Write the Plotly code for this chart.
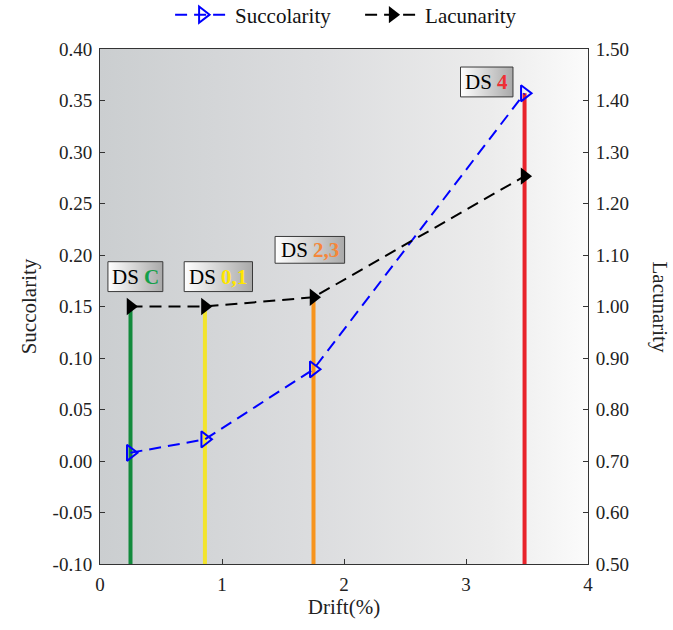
import plotly.graph_objects as go

# Damage-state data
states = ["C", "0,1", "2,3", "4"]
drift = [0.25, 0.86, 1.75, 3.48]
succolarity = [0.008, 0.021, 0.089, 0.357]
lacunarity = [1.000, 1.000, 1.018, 1.253]
state_colors = ["#128a3c", "#f2e42c", "#f7941d", "#e8232b"]
label_colors = ["#14a04a", "#ffe600", "#f5873a", "#ee3035"]

# Axis settings and tick labels
y1_range = [-0.10, 0.40]
y2_range = [0.50, 1.50]
x_range = [0, 4]
y1_ticks = [-0.10, -0.05, 0.00, 0.05, 0.10, 0.15, 0.20, 0.25, 0.30, 0.35, 0.40]
y1_labels = ["-0.10", "-0.05", "0.00", "0.05", "0.10", "0.15", "0.20", "0.25", "0.30", "0.35", "0.40"]
y2_ticks = [0.5, 0.6, 0.7, 0.8, 0.9, 1.0, 1.1, 1.2, 1.3, 1.4, 1.5]
y2_labels = ["0.50", "0.60", "0.70", "0.80", "0.90", "1.00", "1.10", "1.20", "1.30", "1.40", "1.50"]

FONT = "Liberation Serif"

# Label box placement (centre x, centre y on left axis, width, height)
box_pos = [(0.29, 0.179, 0.45, 0.029), (0.97, 0.179, 0.56, 0.029),
           (1.72, 0.205, 0.57, 0.026), (3.17, 0.368, 0.43, 0.029)]


def to_left(v):
    # map a lacunarity value onto the succolarity axis
    return y1_range[0] + (v - y2_range[0]) * (y1_range[1] - y1_range[0]) / (y2_range[1] - y2_range[0])


fig = go.Figure()

# shaded background
fig.add_trace(go.Scatter(
    x=[x_range[0], x_range[1], x_range[1], x_range[0], x_range[0]],
    y=[y1_range[0], y1_range[0], y1_range[1], y1_range[1], y1_range[0]],
    mode="lines", line=dict(width=0), fill="toself",
    fillgradient=dict(type="horizontal",
                      colorscale=[[0, "#cbced0"], [0.45, "#dcdddf"], [0.8, "#ececec"], [1, "#fbfbfb"]]),
    showlegend=False, hoverinfo="skip"))

# vertical damage-state lines up to the higher marker
for d, s, l, c in zip(drift, succolarity, lacunarity, state_colors):
    top = max(s, to_left(l))
    fig.add_trace(go.Scatter(x=[d, d], y=[y1_range[0], top], mode="lines",
                             line=dict(color=c, width=4), showlegend=False, hoverinfo="skip"))

# label boxes with gradient fill
for (cx, cy, w, h) in box_pos:
    fig.add_trace(go.Scatter(
        x=[cx - w / 2, cx + w / 2, cx + w / 2, cx - w / 2, cx - w / 2],
        y=[cy - h / 2, cy - h / 2, cy + h / 2, cy + h / 2, cy - h / 2],
        mode="lines", line=dict(color="#3a3a3a", width=1), fill="toself",
        fillgradient=dict(type="horizontal", colorscale=[[0, "#ffffff"], [1, "#a9a9a9"]]),
        showlegend=False, hoverinfo="skip"))

fig.add_trace(go.Scatter(
    x=drift, y=succolarity, name="Succolarity", mode="lines+markers",
    line=dict(color="#0000ff", width=2, dash="12px,7px"),
    marker=dict(symbol="triangle-right-open", size=14, color="#0000ff", line=dict(width=2, color="#0000ff"))))

fig.add_trace(go.Scatter(
    x=drift, y=lacunarity, name="Lacunarity", mode="lines+markers", yaxis="y2",
    line=dict(color="#000000", width=2, dash="12px,7px"),
    marker=dict(symbol="triangle-right", size=15, color="#000000")))

annotations = []
for (cx, cy, w, h), st, lc in zip(box_pos, states, label_colors):
    annotations.append(dict(
        x=cx, y=cy, xref="x", yref="y", showarrow=False,
        text=f"DS <b><span style='color:{lc}'>{st}</span></b>",
        font=dict(family=FONT, size=21, color="#000000"),
        xanchor="center", yanchor="middle"))

annotations.append(dict(
    x=1, y=0.5, xref="paper", yref="paper", xshift=72, showarrow=False,
    text="Lacunarity", textangle=90, font=dict(family=FONT, size=21, color="#222222"),
    xanchor="center", yanchor="middle"))

axis_common = dict(showline=True, linecolor="#333333", linewidth=1, ticks="inside",
                   ticklen=5, tickcolor="#333333", showgrid=False, zeroline=False,
                   ticklabelstandoff=3,
                   tickfont=dict(family=FONT, size=19, color="#222222"))

fig.update_layout(
    width=673, height=630,
    margin=dict(l=100, r=85, t=49, b=66, autoexpand=False),
    paper_bgcolor="white", plot_bgcolor="white",
    font=dict(family=FONT, size=19, color="#222222"),
    xaxis=dict(range=x_range, dtick=1, mirror=True,
               title=dict(text="Drift(%)", font=dict(family=FONT, size=21), standoff=4),
               **axis_common),
    yaxis=dict(range=y1_range, tickvals=y1_ticks, ticktext=y1_labels,
               title=dict(text="Succolarity", font=dict(family=FONT, size=21), standoff=10),
               **axis_common),
    yaxis2=dict(range=y2_range, tickvals=y2_ticks, ticktext=y2_labels, overlaying="y", side="right",
                **axis_common),
    legend=dict(orientation="h", x=0.533, xanchor="center", yref="container", y=1 - 15 / 630,
                yanchor="middle",
                font=dict(family=FONT, size=21, color="#111111"), bgcolor="rgba(0,0,0,0)",
                itemwidth=55, entrywidth=120, entrywidthmode="pixels"),
    annotations=annotations,
)

fig.write_html("out.html")
